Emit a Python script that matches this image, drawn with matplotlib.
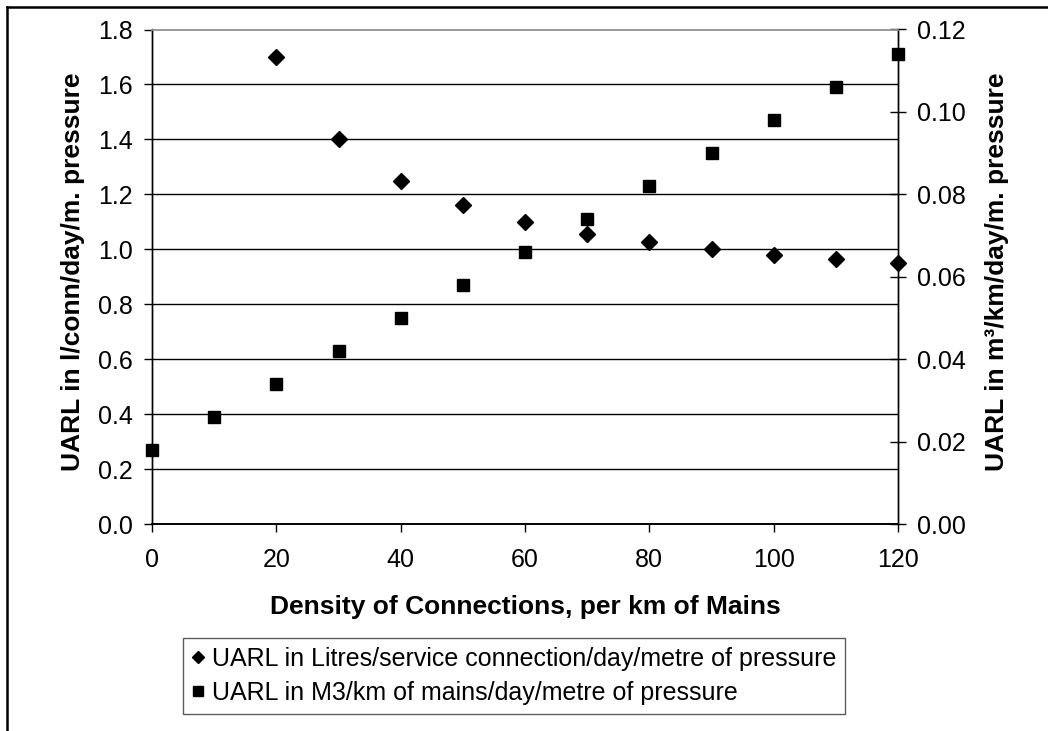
import numpy as np
import matplotlib
matplotlib.use('Agg')
import matplotlib.pyplot as plt
from matplotlib.lines import Line2D

plt.rcParams['font.family'] = ['Liberation Sans', 'DejaVu Sans']

# data
density_conn = [20, 30, 40, 50, 60, 70, 80, 90, 100, 110, 120]
uarl_per_conn = [1.70, 1.40, 1.25, 1.16, 1.10, 1.057, 1.025, 1.00, 0.98, 0.964, 0.95]

density_mains = [0, 10, 20, 30, 40, 50, 60, 70, 80, 90, 100, 110, 120]
uarl_per_km = [0.018, 0.026, 0.034, 0.042, 0.050, 0.058, 0.066, 0.074, 0.082, 0.090, 0.098, 0.106, 0.114]

x_ticks = [0, 20, 40, 60, 80, 100, 120]
left_ticks = [0.0, 0.2, 0.4, 0.6, 0.8, 1.0, 1.2, 1.4, 1.6, 1.8]
right_ticks = [0.00, 0.02, 0.04, 0.06, 0.08, 0.10, 0.12]

label_conn = 'UARL in Litres/service connection/day/metre of pressure'
label_km = 'UARL in M3/km of mains/day/metre of pressure'

fig = plt.figure(figsize=(10.48, 7.31), dpi=100)
ax = fig.add_axes([152/1048, 1-524/731, 746/1048, 494.5/731])
ax2 = ax.twinx()

# gridlines (black, left axis)
for y in left_ticks[1:-1]:
    ax.axhline(y, color='black', lw=1.0, zorder=0)

ax.plot(density_conn, uarl_per_conn, linestyle='none', marker='D', ms=8.6,
        color='black', clip_on=False, zorder=3)
ax2.plot(density_mains, uarl_per_km, linestyle='none', marker='s', ms=8.4,
         color='black', clip_on=False, zorder=3)

ax.set_xlim(0, 120)
ax.set_ylim(0, 1.8)
ax2.set_ylim(0, 0.12)
ax.set_xticks(x_ticks)
ax.set_yticks(left_ticks)
ax.set_yticklabels(['%.1f' % v for v in left_ticks])
ax2.set_yticks(right_ticks)
ax2.set_yticklabels(['%.2f' % v for v in right_ticks])

for a in (ax, ax2):
    a.spines['top'].set_color('#999999')
    a.spines['top'].set_linewidth(1.2)
    a.spines['bottom'].set_color('black')
    a.spines['bottom'].set_linewidth(1.2)
    a.spines['left'].set_color('black')
    a.spines['right'].set_color('black')
    a.spines['left'].set_linewidth(1.0)
    a.spines['right'].set_linewidth(1.0)

ax.tick_params(axis='x', direction='out', length=6, width=1, pad=11, labelsize=18)
ax.tick_params(axis='y', direction='out', length=6, width=1, pad=8, labelsize=18)
ax2.tick_params(axis='y', direction='inout', length=12, width=1, pad=8, labelsize=18)

ax.set_xlabel('Density of Connections, per km of Mains', fontsize=19, fontweight='bold')
ax.xaxis.set_label_coords(0.5, -0.144)
ax.set_ylabel('UARL in l/conn/day/m. pressure', fontsize=19, fontweight='bold')
ax.yaxis.set_label_coords(-0.09, 0.51)
ax2.set_ylabel('UARL in m³/km/day/m. pressure', fontsize=19, fontweight='bold')
ax2.yaxis.set_label_coords(1.116, 0.51)

handles = [Line2D([], [], linestyle='none', marker='D', ms=6, color='black'),
           Line2D([], [], linestyle='none', marker='s', ms=6.5, color='black')]
leg = fig.legend(handles, [label_conn, label_km], loc='upper left',
                 bbox_to_anchor=(183/1048, 1-638/731), fontsize=18,
                 frameon=True, fancybox=False, edgecolor='#333333',
                 handlelength=0.5, handletextpad=0.3, borderpad=0.35,
                 labelspacing=0.4, borderaxespad=0)
leg.get_frame().set_linewidth(1.0)

# chart area border (only left and top visible in the crop)
fig.add_artist(Line2D([6.5/1048, 6.5/1048], [0, 1-7/731], transform=fig.transFigure,
                      color='black', lw=1.8))
fig.add_artist(Line2D([6.5/1048, 1], [1-7/731, 1-7/731], transform=fig.transFigure,
                      color='black', lw=1.8))

fig.savefig('out.png', dpi=100)
